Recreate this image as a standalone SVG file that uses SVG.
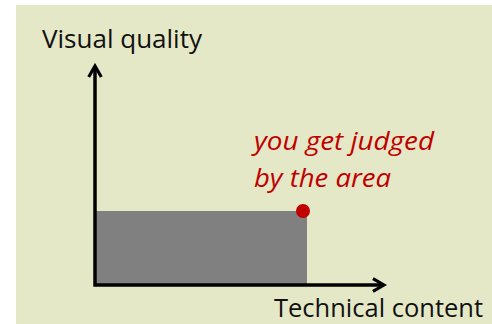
<svg xmlns="http://www.w3.org/2000/svg" width="492" height="324" viewBox="0 0 492 324">
<defs>
<style>
.lbl{font-family:"Open Sans","Liberation Sans",sans-serif;font-size:25px;fill:#111}
.note{font-family:"Open Sans","Liberation Sans",sans-serif;font-size:25px;font-style:italic;fill:#c00000}
.axis{stroke:#000;stroke-width:3.5;fill:none;stroke-linejoin:miter}
</style>
<marker id="ah" viewBox="0 0 10 10" refX="8" refY="5" markerWidth="4.5" markerHeight="4.5" markerUnits="strokeWidth" orient="auto-start-reverse">
<path d="M1,1 L8,5 L1,9" fill="none" stroke="#000" stroke-width="2"/>
</marker>
</defs>
<rect width="492" height="324" fill="#fff"/>
<rect x="16" y="5" width="476" height="319" fill="#e4e8c6"/>
<g id="area"><rect x="95" y="211" width="212" height="74" fill="#808080"/></g>
<g id="connectors">
<path class="axis" d="M95,66 L95,285 L384,285" marker-start="url(#ah)" marker-end="url(#ah)"/>
</g>
<g id="point"><circle cx="303" cy="211" r="7" fill="#c00000"/></g>
<g id="ylabel"><text class="lbl" x="42" y="48" textLength="160" lengthAdjust="spacingAndGlyphs">Visual quality</text></g>
<g id="xlabel"><text class="lbl" x="274" y="317" textLength="209" lengthAdjust="spacingAndGlyphs">Technical content</text></g>
<g id="note">
<text class="note" x="254" y="150" textLength="180" lengthAdjust="spacingAndGlyphs">you get judged</text>
<text class="note" x="254" y="187" textLength="137" lengthAdjust="spacingAndGlyphs">by the area</text>
</g>
</svg>
